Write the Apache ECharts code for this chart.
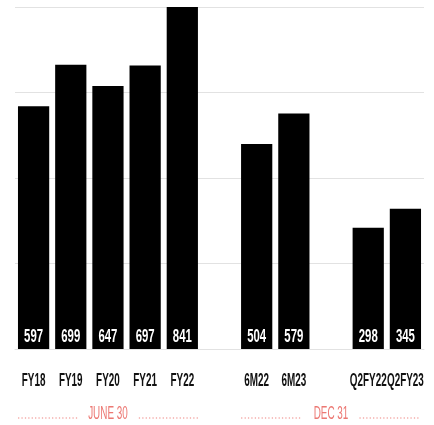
<!DOCTYPE html>
<html>
<head>
<meta charset="utf-8">
<script src="https://cdn.jsdelivr.net/npm/echarts@6/dist/echarts.min.js"></script>
<style>
  html, body { margin: 0; padding: 0; background: #fff; }
  #chart { width: 434px; height: 425px; }
</style>
</head>
<body>
<div id="chart"></div>
<script>
// Periods on the x axis; empty strings leave a gap between the reporting groups
const categories = ['FY18', 'FY19', 'FY20', 'FY21', 'FY22', '', '6M22', '6M23', '', 'Q2FY22', 'Q2FY23'];
const values = [597, 699, 647, 697, 841, null, 504, 579, null, 298, 345];

// Period-end captions shown under each group of bars
const groupLabels = ['JUNE 30', 'DEC 31'];
const groupFirst = ['FY18', '6M22'];
const groupLast = ['FY22', 'Q2FY23'];

const FONT = '"Liberation Sans", Arial, sans-serif';
const PINK = '#ec7873';
const PINK_DOTS = '#f29d9a';
const NARROW = 0.55;      // horizontal squeeze for the condensed lettering
const BAR_SHARE = 0.84;   // share of each category band taken by its bar
const DOT_STEP = 3.4;     // spacing of the dots in the caption rules

const yMax = Math.max(...values.filter(v => v != null));

const measure = document.createElement('canvas').getContext('2d');

// A row of small dots from a to b at height y
function dotRule(a, b, y) {
  const dots = [];
  for (let x = a + 0.7; x <= b; x += DOT_STEP) {
    dots.push({
      type: 'circle',
      shape: { cx: x, cy: y, r: 0.75 },
      style: { fill: PINK_DOTS }
    });
  }
  return dots;
}

// Value label at the foot of each bar, the period name under it, and the
// dotted period-end caption under the first bar of each group
function renderLabels(params, api) {
  const idx = api.value(0);
  const base = api.coord([idx, 0]);
  const children = [{
    type: 'text',
    x: base[0], y: base[1] + 32,
    scaleX: NARROW,
    style: {
      text: categories[idx], font: 'bold 18px ' + FONT, fill: '#111',
      align: 'center', verticalAlign: 'middle'
    }
  }];
  if (values[idx] != null) {
    children.push({
      type: 'text',
      x: base[0], y: base[1] - 12,
      scaleX: 0.6,
      style: {
        text: String(api.value(1)), font: 'bold 19px ' + FONT, fill: '#ffffff',
        align: 'center', verticalAlign: 'middle'
      }
    });
  }
  const g = groupFirst.indexOf(categories[idx]);
  if (g >= 0) {
    const halfBar = api.size([1, 0])[0] * BAR_SHARE / 2;
    const lastIdx = categories.indexOf(groupLast[g]);
    const left = base[0] - halfBar;
    const right = api.coord([lastIdx, 0])[0] + halfBar;
    const mid = (left + right) / 2;
    const y = base[1] + 65;
    const font = '18px ' + FONT;
    measure.font = font;
    const w = measure.measureText(groupLabels[g]).width * NARROW;
    const gap = 11;
    children.push({
      type: 'text',
      x: mid, y: y,
      scaleX: NARROW,
      style: {
        text: groupLabels[g], fill: PINK, font: font,
        align: 'center', verticalAlign: 'middle'
      }
    });
    children.push(...dotRule(left, mid - w / 2 - gap, y + 4));
    children.push(...dotRule(mid + w / 2 + gap, right, y + 4));
  }
  return { type: 'group', children: children };
}

const chart = echarts.init(document.getElementById('chart'), null, { renderer: 'canvas' });

chart.setOption({
  animation: false,
  backgroundColor: '#ffffff',
  grid: { left: 15, right: 10, top: 7, bottom: 76, containLabel: false },
  xAxis: {
    type: 'category',
    data: categories,
    axisLine: { show: true, lineStyle: { color: '#e2e2e2', width: 1 } },
    axisTick: { show: false },
    axisLabel: { show: false }
  },
  yAxis: {
    type: 'value',
    min: 0,
    max: yMax,
    interval: yMax / 4,
    axisLine: { show: false },
    axisTick: { show: false },
    axisLabel: { show: false },
    splitLine: { show: true, lineStyle: { color: '#e2e2e2', width: 1 } }
  },
  series: [{
    type: 'bar',
    data: values,
    barWidth: (BAR_SHARE * 100) + '%',
    itemStyle: { color: '#000000' }
  }, {
    type: 'custom',
    renderItem: renderLabels,
    clip: false,
    data: categories.map((c, i) => [i, values[i] == null ? 0 : values[i]]),
    z: 5
  }]
});
</script>
</body>
</html>
